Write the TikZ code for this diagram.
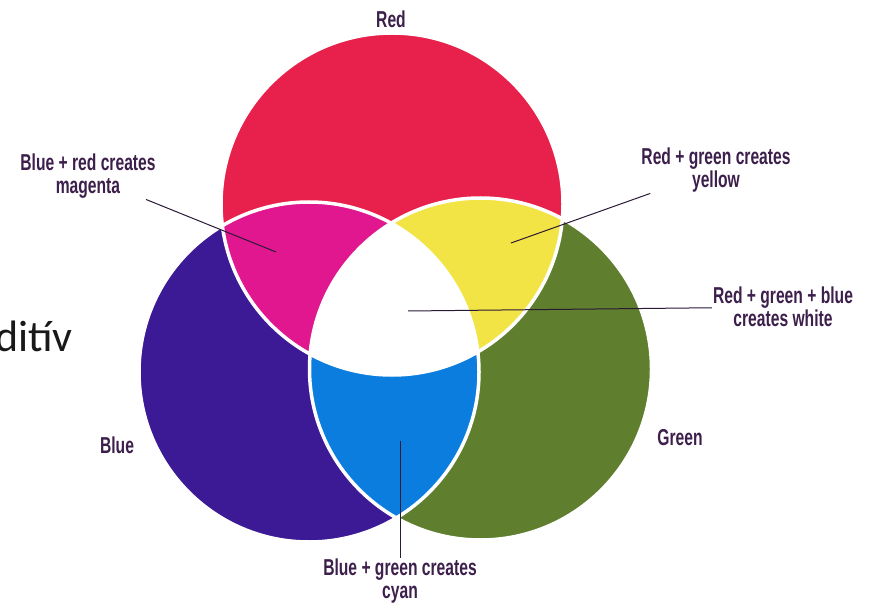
\documentclass[tikz,border=0pt]{standalone}
\usepackage{fontspec}
\newfontfamily\tagfont[FakeStretch=0.68]{Liberation Sans Bold}
\newfontfamily\slidefont{Carlito}
\definecolor{redfill}{HTML}{E8214C}
\definecolor{bluefill}{HTML}{3C1A96}
\definecolor{greenfill}{HTML}{5F7E2E}
\definecolor{magentafill}{HTML}{E0178E}
\definecolor{yellowfill}{HTML}{F3E445}
\definecolor{cyanfill}{HTML}{0B7DDE}
\definecolor{textpurple}{HTML}{3D1F4C}
\definecolor{linedark}{HTML}{2B1A36}
\newcommand{\redpath}{(392,204) circle (171)}
\newcommand{\bluepath}{(309,372) circle (170)}
\newcommand{\greenpath}{(480.5,369) circle (171)}
\begin{document}
\begin{tikzpicture}[x=1pt, y=-1pt,
    mixtext/.style={text=textpurple, font=\tagfont\fontsize{23}{23}\selectfont, align=center, inner sep=1pt},
    leader/.style={draw=linedark, line width=1pt},
    rim/.style={draw=white, line width=3.5pt}]

    \useasboundingbox (0,0) rectangle (872,609);
    \fill[white] (0,0) rectangle (872,609);

    \fill[redfill] \redpath;
    \fill[bluefill] \bluepath;
    \fill[greenfill] \greenpath;
    \begin{scope}
        \clip \redpath;
        \fill[magentafill] \bluepath;
        \fill[yellowfill] \greenpath;
    \end{scope}
    \begin{scope}
        \clip \bluepath;
        \fill[cyanfill] \greenpath;
    \end{scope}
    \begin{scope}
        \clip \redpath;
        \clip \bluepath;
        \fill[white] \greenpath;
    \end{scope}
    \draw[rim] \redpath;
    \draw[rim] \bluepath;
    \draw[rim] \greenpath;

    \node[anchor=base west, inner sep=0, text=black!90, font=\slidefont\fontsize{44}{44}\selectfont] (slideword) at (-5,352) {ditív};

    \node[mixtext] (lblred) at (391,19) {Red};
    \node[mixtext] (lblblue) at (117,445) {Blue};
    \node[mixtext] (lblgreen) at (680,438) {Green};
    \node[mixtext] (lblmagenta) at (88,176) {Blue + red creates\\magenta};
    \node[mixtext] (lblyellow) at (716,170) {Red + green creates\\yellow};
    \node[mixtext] (lblwhite) at (783,307) {Red + green + blue\\creates white};
    \node[mixtext] (lblcyan) at (400,581) {Blue + green creates\\cyan};

    \coordinate (ptmagenta) at (276,252);
    \coordinate (ptyellow) at (511,243);
    \coordinate (ptwhite) at (408,311);
    \coordinate (ptcyan) at (400,441);

    \draw[leader] (lblmagenta) -- (ptmagenta);
    \draw[leader] (lblyellow) -- (ptyellow);
    \draw[leader] (lblwhite) -- (ptwhite);
    \draw[leader] (lblcyan) -- (ptcyan);
\end{tikzpicture}
\end{document}
